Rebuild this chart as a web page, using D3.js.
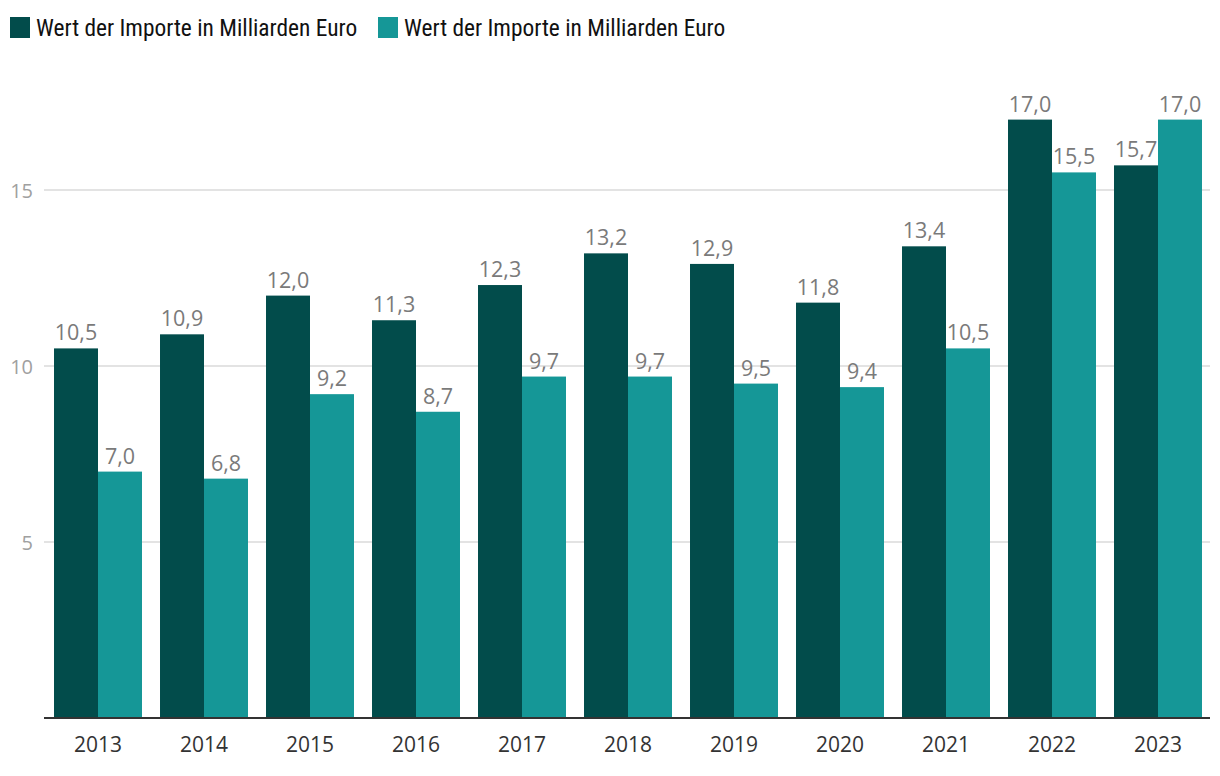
<!DOCTYPE html>
<html><head><meta charset="utf-8">
<script src="https://cdn.jsdelivr.net/npm/d3@7"></script>
<style>
body{margin:0;background:#fff;}
svg{display:block;}
</style></head>
<body>
<svg id="chart" width="1220" height="776"></svg>
<script>
const years = ["2013","2014","2015","2016","2017","2018","2019","2020","2021","2022","2023"];
const seriesA = [10.5,10.9,12.0,11.3,12.3,13.2,12.9,11.8,13.4,17.0,15.7];
const seriesB = [7.0,6.8,9.2,8.7,9.7,9.7,9.5,9.4,10.5,15.5,17.0];
const seriesNames = ["Wert der Importe in Milliarden Euro","Wert der Importe in Milliarden Euro"];
const colors = ["#024c4b","#159797"];
const yTicks = [5,10,15];

(function(){
const svg = d3.select("#chart");
const plotLeft = 44, plotBottom = 718;
const fontMain = "'Liberation Sans Narrow','Roboto Condensed','DejaVu Sans Condensed',sans-serif";

const x = d3.scaleBand().domain(years).range([45, 1211]).paddingInner(0.17).paddingOuter(0.085);
const xs = d3.scaleBand().domain([0,1]).range([0, x.bandwidth()]);
const y = d3.scaleLinear().domain([0, 17.56]).range([plotBottom, plotBottom - 17.56*35.2]);

svg.append("g").selectAll("line").data(yTicks).join("line")
  .attr("x1", plotLeft).attr("x2", 1210)
  .attr("y1", d=>y(d)).attr("y2", d=>y(d))
  .attr("stroke","#e3e3e3").attr("stroke-width",2);

const yAxis = d3.axisLeft(y).tickValues(yTicks).tickSize(0).tickPadding(0);
const gy = svg.append("g").attr("transform",`translate(33,0)`).call(yAxis);
gy.select(".domain").remove();
gy.selectAll("text").attr("fill","#a0a0a0").attr("font-size",20)
  .attr("font-family","'Open Sans',sans-serif").attr("dy","0.35em");

const data = years.map((yr,i)=>({yr, vals:[seriesA[i], seriesB[i]]}));
const groups = svg.append("g").selectAll("g").data(data).join("g")
  .attr("transform", d=>`translate(${x(d.yr)},0)`);
groups.selectAll("rect").data(d=>d.vals.map((v,k)=>({v,k}))).join("rect")
  .attr("x", d=>xs(d.k)).attr("width", xs.bandwidth())
  .attr("y", d=>y(d.v)).attr("height", d=>plotBottom - y(d.v))
  .attr("fill", d=>colors[d.k]);
groups.selectAll("text").data(d=>d.vals.map((v,k)=>({v,k}))).join("text")
  .attr("x", d=>xs(d.k)+xs.bandwidth()/2).attr("y", d=>y(d.v)-8)
  .attr("text-anchor","middle").attr("fill","#7a7a7a")
  .attr("font-size",21.5).attr("font-family","'Open Sans',sans-serif")
  .text(d=>d3.format(".1f")(d.v).replace(".",","));

const xAxis = d3.axisBottom(x).tickSize(0).tickPadding(19);
const gx = svg.append("g").attr("transform",`translate(0,${plotBottom})`).call(xAxis);
gx.select(".domain").remove();
gx.selectAll("text").attr("fill","#333").attr("font-size",21)
  .attr("font-family","'Open Sans',sans-serif");
svg.append("line").attr("x1",plotLeft).attr("x2",1210).attr("y1",plotBottom).attr("y2",plotBottom)
  .attr("stroke","#333").attr("stroke-width",2);

const lg = svg.append("g");
const legendX = [10, 378];
seriesNames.forEach((n,i)=>{
  lg.append("rect").attr("x",legendX[i]).attr("y",17).attr("width",20).attr("height",21).attr("fill",colors[i]);
  lg.append("text").attr("x",legendX[i]+26).attr("y",35.5).attr("fill","#111")
    .attr("font-size",23.4).attr("font-family",fontMain).text(n);
});
})();
</script>
</body></html>
